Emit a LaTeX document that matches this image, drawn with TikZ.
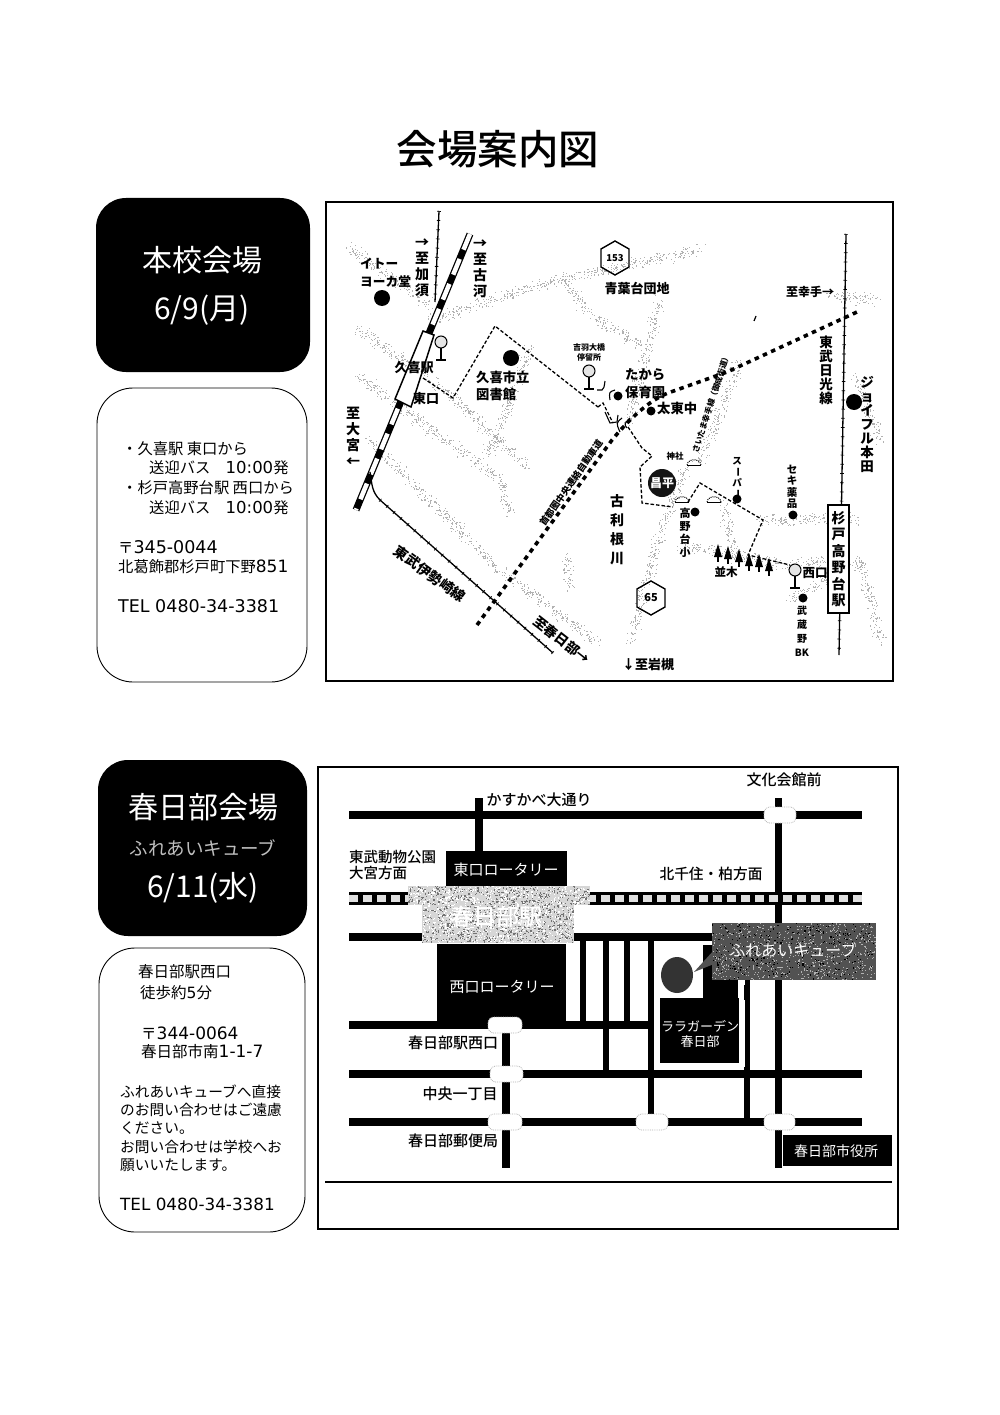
\documentclass[tikz,border=0pt]{standalone}
\usepackage{fontspec}
\newfontfamily\cjk{Noto Sans CJK JP}
\newfontfamily\cjkm{Noto Sans CJK JP Medium}
\newfontfamily\dv{DejaVu Sans}
\newcommand\cjkb{\cjk\bfseries}
\newcommand\fs[2]{\fontsize{#1}{#2}\selectfont}
\newcommand\vbar{\rotatebox[origin=c]{-90}{ー}}
\newcommand\busstop[3]{%
  \draw[line width=1pt,fill=black!10] (#1,#2) circle (#3);
  \draw[line width=1.3pt] (#1,#2+#3) -- ++(0,12);
  \draw[line width=1.3pt] (#1-5,#2+#3+12) -- ++(10,0);}
\newcommand\tree[2]{%
  \fill (#1,#2-9) -- (#1+4,#2+4) -- (#1-4,#2+4) -- cycle;
  \draw[line width=1.2pt] (#1,#2) -- (#1,#2+9);}
\newcommand\bridge[2]{%
  \draw[line width=1pt,densely dotted] (#1-7,#2+4) .. controls (#1-6,#2-3) and (#1+6,#2-3) .. (#1+7,#2+4);
  \draw[line width=.8pt] (#1-7,#2+4) -- (#1+7,#2+4);}
% stippled faint road between two points
\newcommand\sroad[4]{%
  \pgfmathsetmacro\sn{int(1+veclen(#3-#1,#4-#2)*1.6)}%
  \foreach \q in {1,...,\sn}{%
    \pgfmathsetmacro\st{rnd}\pgfmathsetmacro\sa{rnd+rnd-1}\pgfmathsetmacro\sb{rnd+rnd-1}%
    \fill[black!30] ({#1+(#3-#1)*\st+7*\sa},{#2+(#4-#2)*\st+7*\sb}) rectangle ++(1.1,1.1);}}
\tikzset{
  x=1pt,y=-1pt,
  lbl/.style={inner sep=0pt,font=\cjk,align=center},
  lft/.style={inner sep=0pt,font=\cjk,anchor=west,align=left},
  frameb/.style={draw=black,line width=2.4pt,fill=white},
  blackpanel/.style={fill=black,rounded corners=30pt},
  whitepanel/.style={draw=black,line width=.9pt,rounded corners=36pt,fill=white},
  mapdot/.style={fill=black},
  track/.style={line width=1.3pt},
  ticks/.style={line width=3.6pt,dash pattern=on .7pt off 8.5pt},
  walk/.style={line width=1.3pt,dash pattern=on 3.5pt off 2pt},
  hway/.style={line width=3.6pt,dash pattern=on 4.5pt off 4.5pt},
  road/.style={line width=7.5pt,black},
  blob/.style={fill=white,draw=black!30,densely dotted,line width=.8pt,rounded corners=6pt},
}
\begin{document}
\begin{tikzpicture}
\useasboundingbox (0,0) rectangle (1000,1415);
\fill[white] (0,0) rectangle (1000,1415);
\pgfmathsetseed{11}

% title
\node[lbl,font=\cjkm\fs{40.5}{44}] (title) at (498,149) {会場案内図};

% ---------- left panels, upper
\fill[blackpanel] (96,198) rectangle (310,372);
\node[lbl,text=white,font=\cjk\fs{30}{34}] (hk) at (202,260) {本校会場};
\node[lbl,text=white,font=\cjk\fs{30}{34}] (hd) at (202,310) {6/9(月)};
\draw[whitepanel] (97,388) rectangle (307,682);
\node[lft,font=\cjk\fs{15.3}{19}] (a1) at (122,449) {・久喜駅 東口から};
\node[lft,font=\cjk\fs{15.3}{19}] (a2) at (149,468) {送迎バス　{\dv\fs{16.5}{19}10:00}発};
\node[lft,font=\cjk\fs{15.3}{19}] (a3) at (122,488) {・杉戸高野台駅 西口から};
\node[lft,font=\cjk\fs{15.3}{19}] (a4) at (149,508) {送迎バス　{\dv\fs{16.5}{19}10:00}発};
\node[lft,font=\cjk\fs{15.3}{19}] (a5) at (118,547) {〒{\dv\fs{17.5}{19}345-0044}};
\node[lft,font=\cjk\fs{15.3}{19}] (a6) at (118,567) {北葛飾郡杉戸町下野{\dv\fs{17}{19}851}};
\node[lft,font=\dv\fs{17.5}{19}] (a7) at (118,606) {TEL 0480-34-3381};

% ---------- left panels, lower
\fill[blackpanel] (98,760) rectangle (307,936);
\node[lbl,text=white,font=\cjk\fs{30}{34}] (kk) at (203,807) {春日部会場};
\node[lbl,text=black!25,font=\cjk\fs{18.5}{20}] (kf) at (203,848) {ふれあいキューブ};
\node[lbl,text=white,font=\cjk\fs{30}{34}] (kd) at (203,888) {6/11(水)};
\draw[whitepanel] (99,948) rectangle (305,1232);
\node[lft,font=\cjk\fs{15.5}{18}] (b1) at (138,972) {春日部駅西口};
\node[lft,font=\cjk\fs{15.5}{18}] (b2) at (140,993) {徒歩約{\dv 5}分};
\node[lft,font=\cjk\fs{15.5}{18}] (b3) at (141,1033) {〒{\dv\fs{17}{18}344-0064}};
\node[lft,font=\cjk\fs{15.5}{18}] (b4) at (141,1052) {春日部市南{\dv\fs{17}{18}1-1-7}};
\node[lft,font=\cjk\fs{14.7}{18}] (b5) at (120,1092) {ふれあいキューブへ直接};
\node[lft,font=\cjk\fs{14.7}{18}] (b6) at (120,1110) {のお問い合わせはご遠慮};
\node[lft,font=\cjk\fs{14.7}{18}] (b7) at (120,1128) {ください。};
\node[lft,font=\cjk\fs{14.7}{18}] (b8) at (120,1147) {お問い合わせは学校へお};
\node[lft,font=\cjk\fs{14.7}{18}] (b9) at (120,1165) {願いいたします。};
\node[lft,font=\dv\fs{16.8}{18}] (b10) at (120,1204) {TEL 0480-34-3381};

% ---------- map 1
\draw[frameb] (326,202) rectangle (893,681);
% faint stippled roads
\sroad{350}{248}{430}{306}
\sroad{430}{320}{490}{300}\sroad{490}{300}{563}{278}\sroad{563}{278}{640}{262}\sroad{640}{262}{700}{250}
\sroad{357}{328}{453}{397}\sroad{453}{397}{530}{470}
\sroad{357}{375}{500}{480}\sroad{500}{480}{510}{515}
\sroad{368}{438}{500}{570}\sroad{500}{570}{597}{642}
\sroad{530}{345}{503}{420}\sroad{503}{420}{487}{455}
\sroad{570}{588}{566}{555}
\sroad{660}{300}{627}{425}
\sroad{560}{275}{590}{315}\sroad{590}{315}{640}{345}
\sroad{687}{465}{660}{530}\sroad{660}{530}{630}{642}
\sroad{723}{502}{735}{560}
\sroad{680}{545}{790}{565}\sroad{790}{565}{830}{560}
\sroad{760}{520}{860}{518}
\sroad{790}{600}{860}{560}\sroad{860}{560}{880}{640}
\sroad{827}{295}{875}{300}
\sroad{855}{375}{880}{440}
\sroad{700}{460}{740}{360}

% Nikko line
\draw[track] (846,234) -- (839,655);
\draw[ticks] (846,234) -- (839,655);
% Kazo side line
\draw[track] (439,211) -- (435,302);
\draw[ticks] (439,211) -- (435,302);
% Isesaki main striped band
\draw[line width=7pt] (470,234) -- (356,510);
\draw[line width=4.5pt,white,dash pattern=on 17pt off 10pt] (470,234) -- (356,510);
% curved branch
\draw[track] (370,472) .. controls (372,485) and (372,492) .. (380,500) -- (553,653);
\draw[ticks] (380,500) -- (553,653);
% station box
\coordinate (st1) at (423,331);
\coordinate (st2) at (434,335);
\coordinate (st3) at (411,407);
\coordinate (st4) at (395,399);
\draw[line width=1.5pt,fill=white] (st1) -- (st2) -- (st3) -- (st4) -- cycle;
% highway
\draw[hway] (477,625) -- (612,440) .. controls (630,418) and (650,400) .. (668,393) -- (727,372) -- (857,312);
% walking routes
\draw[walk] (423,378) -- (453,398) -- (495,326) -- (598,407);
\draw[walk] (598,407) -- (603,403) -- (613,423);
\draw[walk] (628,427) -- (642,448) -- (652,456) -- (640,467) -- (642,503) -- (673,507);
\draw[walk] (688,502) -- (700,483) -- (763,520) -- (748,555) -- (790,565);
% small bends
\draw[line width=1.1pt] (597,390) -- (602,390) .. controls (604,388) .. (605,381);
\draw[line width=1.1pt] (615,390) .. controls (609,392) .. (610,400);
\draw[line width=1.1pt] (605,412) -- (610,423) -- (617,422) -- (618,415);
\draw[line width=1.1pt] (622,418) .. controls (616,423) .. (620,432);
\draw[line width=1.1pt] (630,418) .. controls (624,424) .. (627,428);
\draw[line width=1.2pt] (754,321) -- (756,316);
% bus stops
\busstop{441}{342}{6}
\busstop{589}{371}{6}
\busstop{795}{570}{6}
% dots
\fill[mapdot] (382,298) circle (8);
\fill[mapdot] (511,358) circle (8);
\fill[mapdot] (854,402) circle (8);
\fill[mapdot] (618,396) circle (4.5);
\fill[mapdot] (651,411) circle (4.5);
\fill[mapdot] (695,512) circle (4.5);
\fill[mapdot] (737,499) circle (4.5);
\fill[mapdot] (793,515) circle (4.5);
\fill[mapdot] (803,598) circle (4.5);
\fill[black!92] (662,483) circle (14);
\node[lbl,text=white,font=\cjkb\fs{12}{14}] (sh) at (662,483) {昌平};
% bridges
\bridge{694}{461}
\bridge{682}{498}
\bridge{714}{498}
% trees
\tree{718}{553}\tree{728}{555}\tree{739}{558}\tree{749}{562}\tree{759}{563}\tree{769}{567}
% hexagons
\node[lbl,font=\cjkb\fs{9.5}{10}] (h153) at (615,258) {153};
\draw[line width=1.4pt] (h153.center) ++(0,-17) -- ++(14,8) -- ++(0,18) -- ++(-14,8) -- ++(-14,-8) -- ++(0,-18) -- cycle;
\node[lbl,font=\cjkb\fs{11}{11}] (h65) at (651,598) {65};
\draw[line width=1.4pt] (h65.center) ++(0,-17) -- ++(14,8) -- ++(0,18) -- ++(-14,8) -- ++(-14,-8) -- ++(0,-18) -- cycle;
% labels map 1
\node[lbl,font=\cjkb\fs{14}{16}] (m1) at (422,268) {→\\至\\加\\須};
\node[lbl,font=\cjkb\fs{14}{16}] (m2) at (480,269) {→\\至\\古\\河};
\node[lbl,font=\cjkb\fs{14}{16}] (m3) at (353,437) {至\\大\\宮\\←};
\node[lft,font=\cjkb\fs{12.7}{18}] (m4) at (360,264) {イトー};
\node[lft,font=\cjkb\fs{12.7}{18}] (m5) at (360,282) {ヨーカ堂};
\node[lbl,font=\cjkb\fs{13}{16}] (m6) at (414,368) {久喜駅};
\node[lbl,font=\cjkb\fs{13}{16}] (m7) at (426,399) {東口};
\node[lft,font=\cjkb\fs{13.3}{17}] (m8) at (476,377) {久喜市立};
\node[lft,font=\cjkb\fs{13.3}{17}] (m9) at (476,394) {図書館};
\node[lbl,font=\cjkb\fs{8}{10}] (m10) at (589,352) {吉羽大橋\\停留所};
\node[lbl,rotate=55,font=\cjkb\fs{9.3}{10}] (m11) at (571,483) {首都圏中央連絡自動車道};
\node[lbl,rotate=-36,font=\cjkb\fs{14}{16}] (m12) at (430,574) {東武伊勢崎線};
\node[lbl,rotate=-38,font=\cjkb\fs{13.5}{16}] (m13) at (562,640) {至春日部→};
\node[lbl,font=\cjkb\fs{13}{16}] (m14) at (637,289) {青葉台団地};
\node[lbl,font=\cjkb\fs{12}{16}] (m15) at (810,292) {至幸手→};
\node[lbl,rotate=72,font=\cjkb\fs{8}{10}] (m16) at (711,403) {さいたま幸手線（御成街道）};
\node[lft,font=\cjkb\fs{13.3}{17}] (m17) at (625,375) {たから};
\node[lft,font=\cjkb\fs{13.3}{17}] (m18) at (625,392) {保育園};
\node[lft,font=\cjkb\fs{13.3}{16}] (m19) at (657,408) {太東中};
\node[lbl,font=\cjkb\fs{8.5}{10}] (m20) at (675,456) {神社};
\node[lbl,font=\cjkb\fs{14}{19}] (m21) at (617,530) {古\\利\\根\\川};
\node[lbl,font=\cjkb\fs{11}{13}] (m22) at (685,533) {高\\野\\台\\小};
\node[lbl,font=\cjkb\fs{9.5}{10}] (m23) at (737,478) {ス\\\vbar\\パ\\\vbar};
\node[lbl,font=\cjkb\fs{10.5}{11.5}] (m24) at (792,487) {セ\\キ\\薬\\品};
\node[lbl,font=\cjkb\fs{13.5}{14}] (m25) at (867,424) {ジ\\ョ\\イ\\フ\\ル\\本\\田};
\node[lbl,font=\cjkb\fs{13.5}{14}] (m26) at (826,370) {東\\武\\日\\光\\線};
\node[lbl,draw,line width=1.6pt,fill=white,minimum width=21pt,minimum height=108pt,font=\cjkb\fs{14}{16.5}] (m27) at (838.5,559) {杉\\戸\\高\\野\\台\\駅};
\node[lbl,font=\cjkb\fs{12.5}{14}] (m28) at (815,573) {西口};
\node[lbl,font=\cjkb\fs{10}{14}] (m29) at (802,631) {武\\蔵\\野\\BK};
\node[lbl,font=\cjkb\fs{11.5}{14}] (m30) at (726,572) {並木};
\node[lbl,font=\cjkb\fs{13}{16}] (m31) at (648,665) {↓至岩槻};

% ---------- map 2
\draw[frameb] (318,767) rectangle (898,1229);
\draw[line width=1.4pt] (325,1182) -- (892,1182);
% horizontal roads
\draw[road] (349,815) -- (862,815);
\draw[road] (349,937) -- (712,937);
\draw[road] (349,1025) -- (651,1025);
\draw[road] (349,1074) -- (862,1074);
\draw[road] (349,1122) -- (862,1122);
% vertical roads
\draw[road] (479,798) -- (479,851);
\draw[road] (778.5,798) -- (778.5,1168);
\draw[road] (506,1028) -- (506,1168);
\draw[line width=6pt] (583,937) -- (583,1025);
\draw[line width=6pt] (606,937) -- (606,1074);
\draw[line width=6pt] (627,937) -- (627,1025);
\draw[line width=6pt] (651,937) -- (651,1116);
\draw[line width=6pt] (747,980) -- (747,1122);
% rail
\draw[line width=13pt] (349,898) -- (862,898);
\draw[line width=7pt,black!12,dash pattern=on 9pt off 5pt] (349,898) -- (862,898);
% rotaries
\fill[black] (446,851) rectangle (567,886);
\node[lbl,text=white,font=\cjk\fs{15}{19}] (r1) at (506,870) {東口ロータリー};
\fill[black] (437,944) rectangle (566,1028);
\node[lbl,text=white,font=\cjk\fs{15}{19}] (r2) at (502,987) {西口ロータリー};
% station patch
\fill[black!16] (408,886) rectangle (590,905);
\fill[black!16] (422,905) rectangle (574,943);
\foreach \i in {1,...,380}{\pgfmathsetmacro\a{408+181*rnd}\pgfmathsetmacro\b{886+18*rnd}\fill[black!55] (\a,\b) rectangle ++(1.2,1.2);\pgfmathsetmacro\a{408+181*rnd}\pgfmathsetmacro\b{886+18*rnd}\fill[white] (\a,\b) rectangle ++(1.2,1.2);}
\foreach \i in {1,...,600}{\pgfmathsetmacro\a{422+151*rnd}\pgfmathsetmacro\b{905+37*rnd}\fill[black!55] (\a,\b) rectangle ++(1.2,1.2);\pgfmathsetmacro\a{422+151*rnd}\pgfmathsetmacro\b{905+37*rnd}\fill[white] (\a,\b) rectangle ++(1.2,1.2);}
\node[lbl,text=white,font=\cjkm\fs{23}{26}] (r3) at (496,917) {春日部駅};
% building
\fill[white] (655,944) rectangle (745,1067);
\draw[line width=6pt] (747,985) -- (747,1000);
\fill[black] (703,945) rectangle (738,998);
\fill[black] (660,998) rectangle (738.5,1063);
\fill[black!80] (677,975) ellipse (16 and 18);
\node[lbl,text=white,font=\cjk\fs{13}{15.5}] (r4) at (700,1034) {ララガーデン\\春日部};
% bubble
\fill[black!68] (694,972) -- (714,950) -- (714,964) -- cycle;
\fill[black!68] (712,923) rectangle (876,980);
\foreach \i in {1,...,700}{\pgfmathsetmacro\a{712+163*rnd}\pgfmathsetmacro\b{923+56*rnd}\fill[black!30] (\a,\b) rectangle ++(1.1,1.1);}
\foreach \i in {1,...,300}{\pgfmathsetmacro\a{712+163*rnd}\pgfmathsetmacro\b{923+56*rnd}\fill[black] (\a,\b) rectangle ++(1.1,1.1);}
\node[lbl,text=white,font=\cjk\fs{16}{19}] (r5) at (793,950) {ふれあいキューブ};
% blobs
\draw[blob] (764,807) rectangle (796,823);
\draw[blob] (488,1017) rectangle (522,1033);
\draw[blob] (490,1066) rectangle (523,1082);
\draw[blob] (488,1114) rectangle (522,1130);
\draw[blob] (636,1114) rectangle (668,1130);
\draw[blob] (764,1114) rectangle (795,1130);
% city hall
\fill[black] (783,1135) rectangle (891.5,1166);
\node[lbl,text=white,font=\cjk\fs{14}{18}] (r6) at (836,1151) {春日部市役所};
% labels map 2
\node[lbl,font=\cjkm\fs{15}{18}] (k1) at (539,800) {かすかべ大通り};
\node[lbl,font=\cjkm\fs{15}{18}] (k2) at (784,780) {文化会館前};
\node[lft,font=\cjkm\fs{14.5}{17}] (k3) at (349,857) {東武動物公園};
\node[lft,font=\cjkm\fs{14.5}{17}] (k4) at (349,873) {大宮方面};
\node[lbl,font=\cjkm\fs{14.7}{18}] (k5) at (711,874) {北千住・柏方面};
\node[lbl,font=\cjkm\fs{15}{18}] (k6) at (453,1043) {春日部駅西口};
\node[lbl,font=\cjkm\fs{15}{18}] (k7) at (460,1094) {中央一丁目};
\node[lbl,font=\cjkm\fs{15}{18}] (k8) at (453,1141) {春日部郵便局};
\end{tikzpicture}
\end{document}
